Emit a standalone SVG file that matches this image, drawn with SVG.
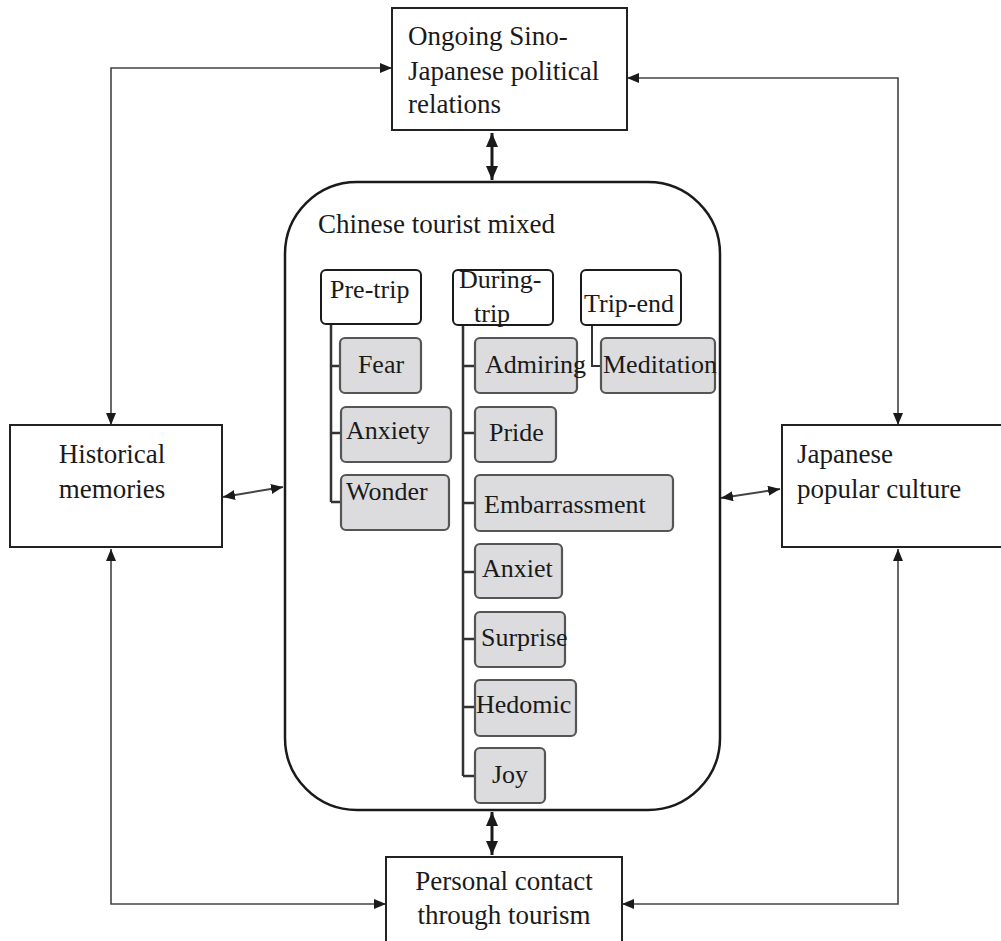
<svg xmlns="http://www.w3.org/2000/svg" width="1001" height="941" viewBox="0 0 1001 941" font-family="'Liberation Serif', Tinos, 'Times New Roman', Times, 'DejaVu Serif', serif">
<style>
text{font-family:"Liberation Serif",Tinos,"Times New Roman",Times,"DejaVu Serif",serif;fill:#1a1a1a}
.outer{fill:#fff;stroke:#222;stroke-width:2}
.big{fill:#fff;stroke:#1a1a1a;stroke-width:2.5}
.hdr{fill:#fff;stroke:#1a1a1a;stroke-width:2}
.emo{fill:#dcdcde;stroke:#555;stroke-width:2.2}
.t27{font-size:27px}
.t26{font-size:26px}
.conn{fill:none;stroke:#444;stroke-width:1.6}
.dbl{fill:none;stroke:#1a1a1a;stroke-width:3}
.tree{fill:none;stroke:#333;stroke-width:2.5}
</style>
<defs>
<marker id="ah" viewBox="0 0 12 10" refX="12" refY="5" markerWidth="12" markerHeight="10" markerUnits="userSpaceOnUse" orient="auto-start-reverse"><path d="M0,0 L12,5 L0,10 Z" fill="#1a1a1a"/></marker>
<marker id="ahb" viewBox="0 0 14 12" refX="14" refY="6" markerWidth="14" markerHeight="12" markerUnits="userSpaceOnUse" orient="auto-start-reverse"><path d="M0,0 L14,6 L0,12 Z" fill="#1a1a1a"/></marker>
</defs>

<g id="connectors">
<path class="conn" d="M111,425 V68 H392" marker-start="url(#ah)" marker-end="url(#ah)"/>
<path class="conn" d="M627,78 H898 V425" marker-start="url(#ah)" marker-end="url(#ah)"/>
<path class="conn" d="M111,549 V904 H386" marker-start="url(#ah)" marker-end="url(#ah)"/>
<path class="conn" d="M898,549 V904 H622" marker-start="url(#ah)" marker-end="url(#ah)"/>
<path class="dbl" d="M492,133 V180" marker-start="url(#ahb)" marker-end="url(#ahb)"/>
<path class="dbl" d="M492,812 V855" marker-start="url(#ahb)" marker-end="url(#ahb)"/>
<path class="conn" style="stroke-width:2" d="M223,497 L283,487" marker-start="url(#ah)" marker-end="url(#ah)"/>
<path class="conn" style="stroke-width:2" d="M721,498 L780,489" marker-start="url(#ah)" marker-end="url(#ah)"/>
</g>

<g id="political">
<rect class="outer" x="392" y="8" width="235" height="122"/>
<text class="t27" x="408" y="45">Ongoing Sino-</text>
<text class="t27" x="408" y="80">Japanese political</text>
<text class="t27" x="408" y="113">relations</text>
</g>

<g id="historical">
<rect class="outer" x="10" y="425" width="212" height="122"/>
<text class="t27" x="112" y="463" text-anchor="middle">Historical</text>
<text class="t27" x="112" y="498" text-anchor="middle">memories</text>
</g>

<g id="popular">
<rect class="outer" x="782" y="425" width="222" height="122"/>
<text class="t27" x="797" y="463">Japanese</text>
<text class="t27" x="797" y="498">popular culture</text>
</g>

<g id="personal">
<rect class="outer" x="386" y="857" width="236" height="95"/>
<text class="t27" x="504" y="890" text-anchor="middle">Personal contact</text>
<text class="t27" x="504" y="924" text-anchor="middle">through tourism</text>
</g>

<g id="mixed">
<rect class="big" x="285" y="182" width="435" height="628" rx="72" ry="72"/>
<text class="t27" x="318" y="233">Chinese tourist mixed</text>
</g>

<g id="tree-lines">
<path class="tree" d="M331,324 V502 M331,366 H340 M331,433 H341 M331,502 H341"/>
<path class="tree" d="M463,325 V776 M463,366 H475 M463,433 H475 M463,503 H475 M463,572 H475 M463,639 H475 M463,707 H475 M463,776 H475"/>
<path class="tree" style="stroke-width:2" d="M592,325 V366 H601"/>
</g>

<g id="pre-trip">
<rect class="hdr" x="321" y="270" width="100" height="54" rx="5"/>
<text class="t26" x="330" y="298">Pre-trip</text>
</g>
<g id="during-trip">
<rect class="hdr" x="453" y="270" width="100" height="55" rx="5"/>
<text class="t26" x="459" y="288">During-</text>
<text class="t26" x="474" y="322">trip</text>
</g>
<g id="trip-end">
<rect class="hdr" x="581" y="270" width="100" height="55" rx="5"/>
<text class="t26" x="584" y="312">Trip-end</text>
</g>

<g id="fear">
<rect class="emo" x="340" y="338" width="81" height="55" rx="5"/>
<text class="t26" x="381" y="373" text-anchor="middle">Fear</text>
</g>
<g id="anxiety">
<rect class="emo" x="341" y="407" width="110" height="55" rx="5"/>
<text class="t26" x="346" y="439">Anxiety</text>
</g>
<g id="wonder">
<rect class="emo" x="341" y="475" width="108" height="55" rx="5"/>
<text class="t26" x="346" y="500">Wonder</text>
</g>

<g id="admiring">
<rect class="emo" x="475" y="338" width="102" height="55" rx="5"/>
<text class="t26" x="485" y="373">Admiring</text>
</g>
<g id="meditation">
<rect class="emo" x="601" y="338" width="114" height="55" rx="5"/>
<text class="t26" x="603" y="373">Meditation</text>
</g>
<g id="pride">
<rect class="emo" x="475" y="407" width="81" height="55" rx="5"/>
<text class="t26" x="489" y="441">Pride</text>
</g>
<g id="embarrassment">
<rect class="emo" x="475" y="475" width="198" height="56" rx="5"/>
<text class="t26" x="484" y="513">Embarrassment</text>
</g>
<g id="anxiet">
<rect class="emo" x="475" y="544" width="87" height="54" rx="5"/>
<text class="t26" x="482" y="577">Anxiet</text>
</g>
<g id="surprise">
<rect class="emo" x="475" y="612" width="90" height="55" rx="5"/>
<text class="t26" x="481" y="646">Surprise</text>
</g>
<g id="hedomic">
<rect class="emo" x="475" y="680" width="101" height="56" rx="5"/>
<text class="t26" x="476" y="713">Hedomic</text>
</g>
<g id="joy">
<rect class="emo" x="475" y="748" width="70" height="55" rx="5"/>
<text class="t26" x="510" y="783" text-anchor="middle">Joy</text>
</g>
</svg>
